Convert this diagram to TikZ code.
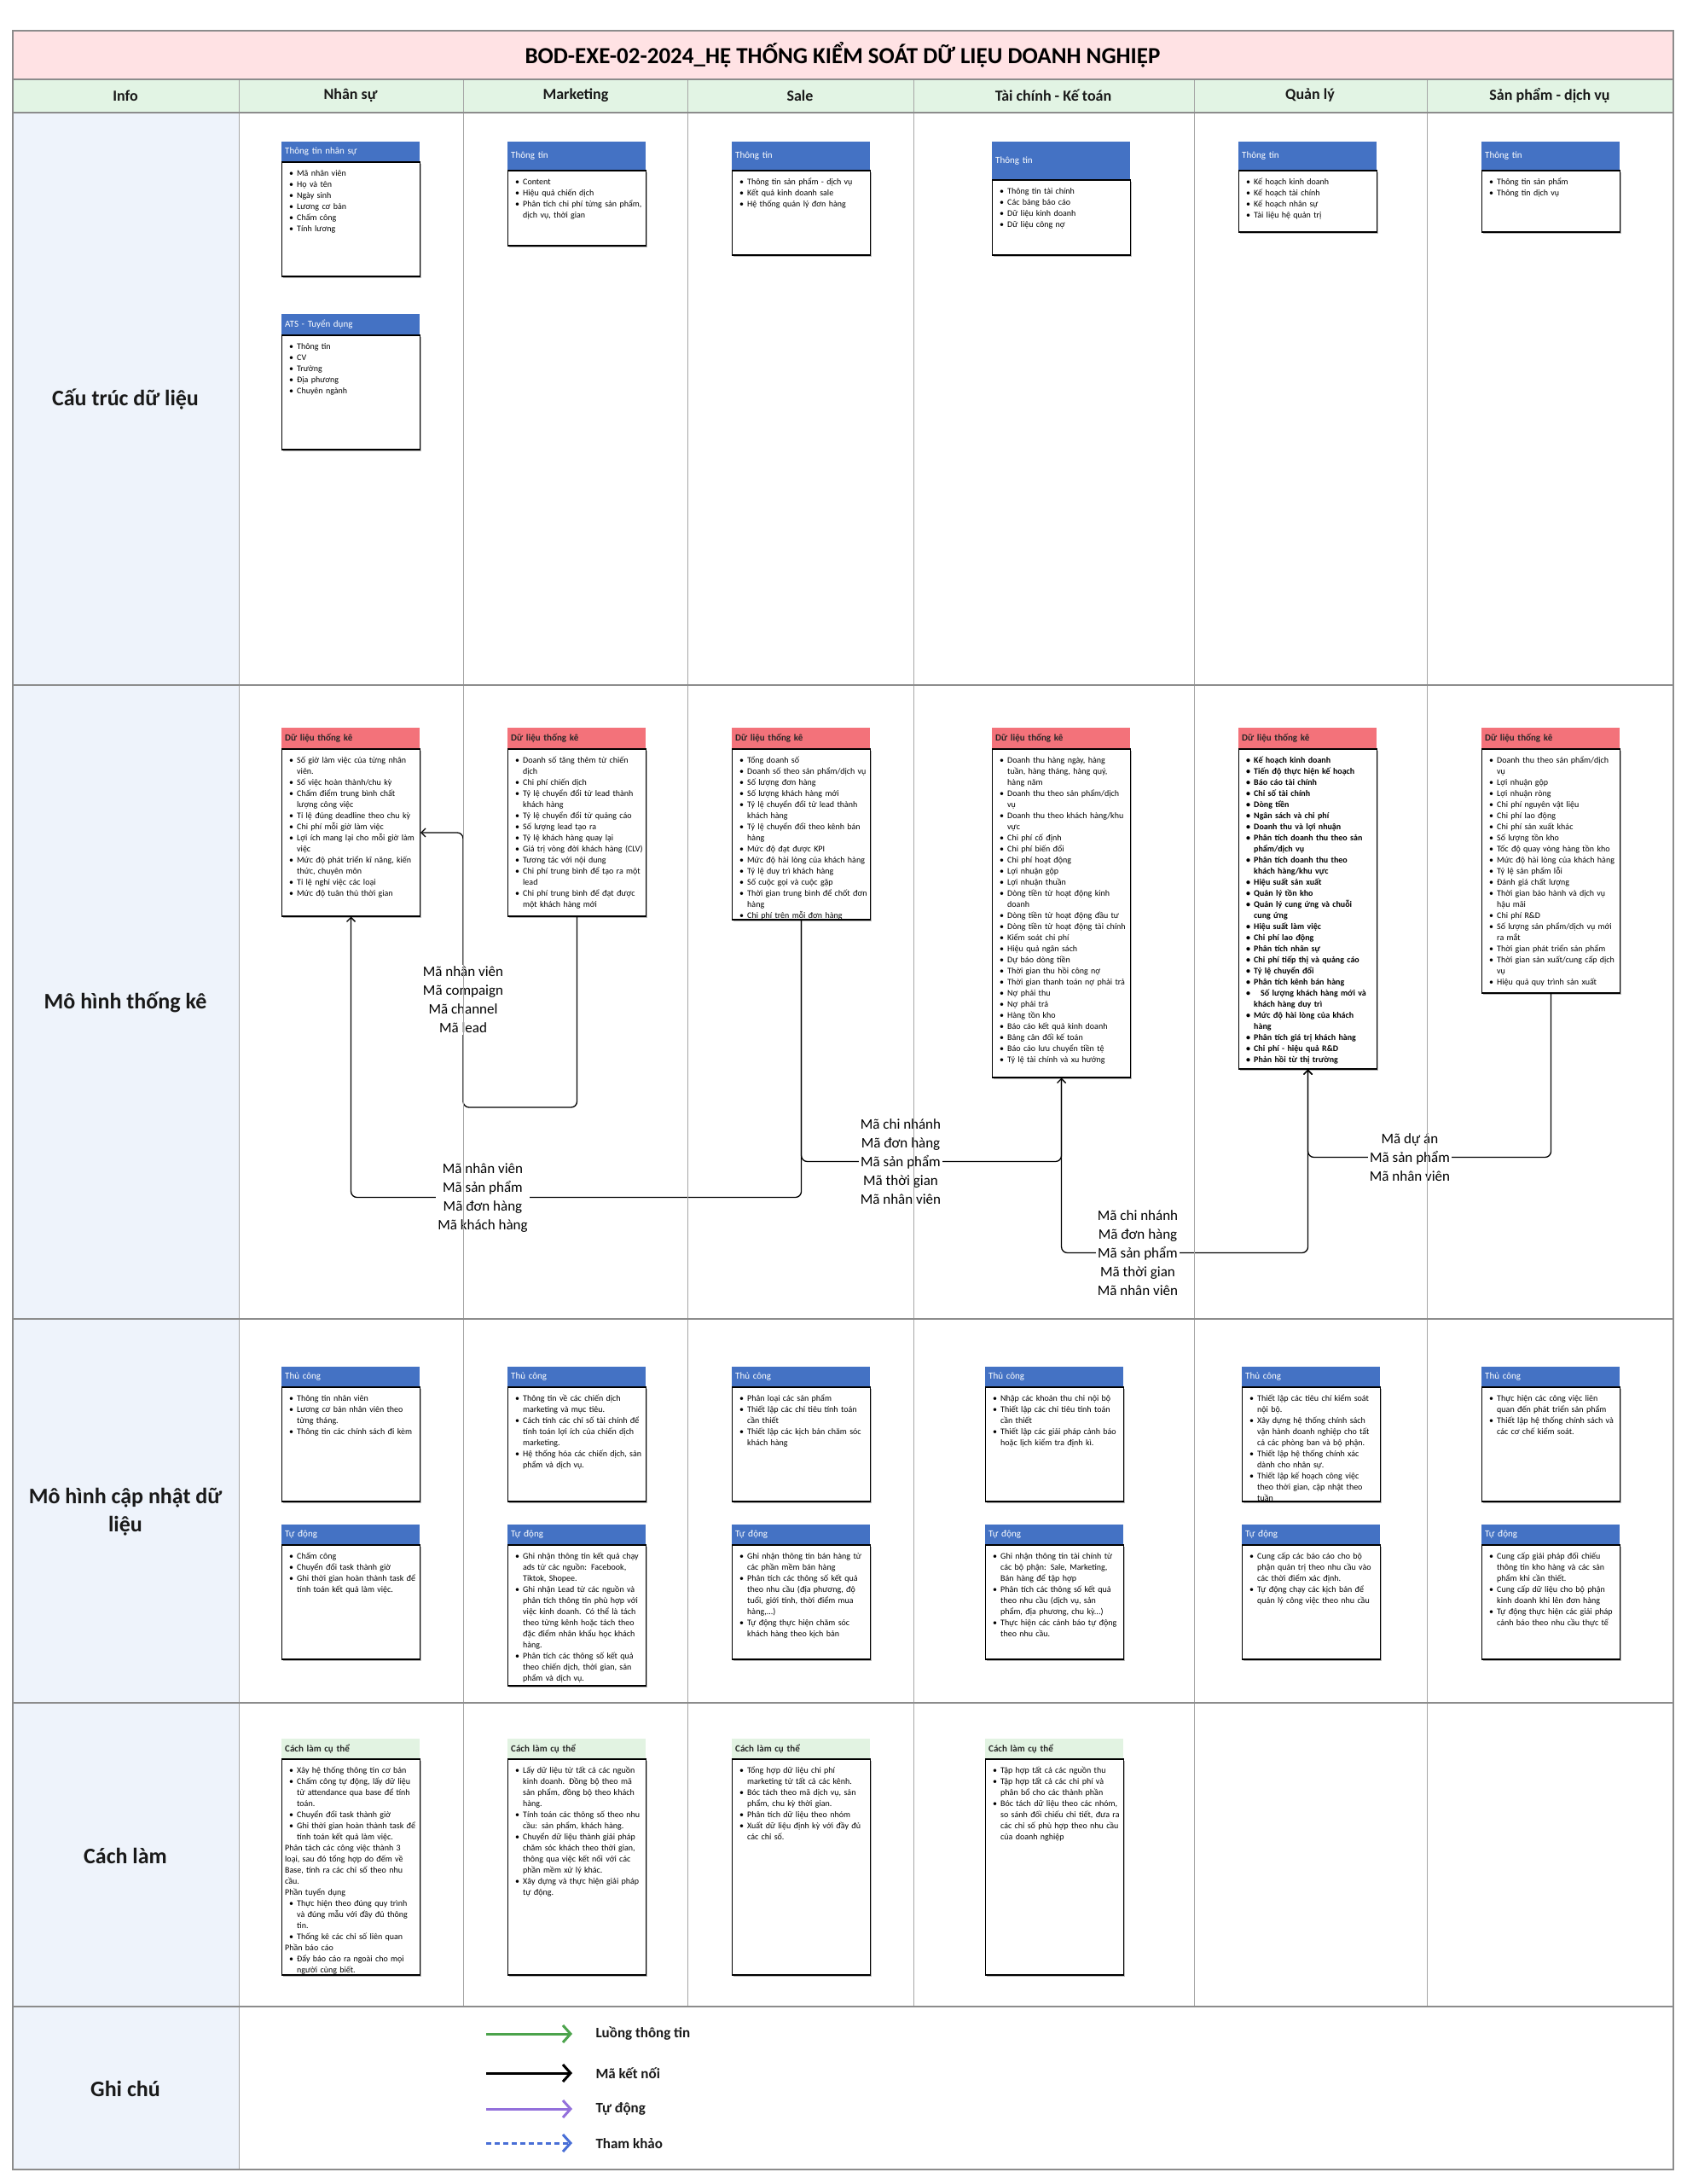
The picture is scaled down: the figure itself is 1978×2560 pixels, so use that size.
\documentclass[tikz,border=0pt]{standalone}
\usepackage{fontspec}
\setmainfont{Carlito}
\usetikzlibrary{arrows.meta, positioning, shadows}

\definecolor{titlepink}{RGB}{255,226,228}
\definecolor{headgreen}{RGB}{226,244,228}
\definecolor{infoblue}{RGB}{238,243,251}
\definecolor{hdrblue}{RGB}{68,114,196}
\definecolor{hdrred}{RGB}{243,114,122}
\definecolor{hdrgreen}{RGB}{226,243,226}
\definecolor{flowgreen}{RGB}{76,163,76}
\definecolor{autopurple}{RGB}{147,112,219}
\definecolor{refblue}{RGB}{72,110,214}

% bullet line and plain line inside a box
\newcommand{\itm}[1]{\par\noindent\hangindent=14pt\hangafter=1\makebox[14pt][l]{\hspace{5pt}\textbullet}#1}
\newcommand{\plainln}[1]{\par\noindent #1}

% box with a coloured title bar: name, corner, bar style, bar height, body height, title, items
\newcommand{\databox}[8]{%
  \node[#3, minimum height=#4pt] (#1Hd) at (#2) {#6};
  \node[boxframe, minimum height=#5pt] (#1) at (#1Hd.south west) {};
  \node[boxtext] (#1Tx) at (#1.north west) {#7#8\par};
}

\begin{document}
\begin{tikzpicture}[x=1pt, y=-1pt,
    hdr/.style={anchor=north west, minimum width=162pt, text width=154pt, inner xsep=4pt, inner ysep=0pt, align=left, font=\fontsize{11}{13}\selectfont},
    hdrBlue/.style={hdr, fill=hdrblue, text=white},
    hdrRed/.style={hdr, fill=hdrred, text=black!85, font=\fontsize{11}{13}\selectfont\bfseries},
    hdrGreen/.style={hdr, fill=hdrgreen, text=black!85, font=\fontsize{11}{13}\selectfont\bfseries},
    boxframe/.style={draw=black, line width=1.1pt, fill=white, anchor=north west, minimum width=162pt, inner sep=0pt,
        drop shadow={shadow xshift=1.2pt, shadow yshift=-1.8pt, fill=black!45, opacity=0.6}},
    boxtext/.style={anchor=north west, inner xsep=4pt, inner ysep=4pt, text width=156pt, align=left, font=\fontsize{10}{13}\selectfont},
    link/.style={draw=black, line width=1.3pt, rounded corners=7pt, -{Straight Barb[length=5pt,width=10pt]}},
    codeLabel/.style={fill=white, align=center, inner sep=2pt, font=\fontsize{17}{22}\selectfont},
    gridline/.style={draw=black!35, line width=1pt},
    rowline/.style={draw=black!45, line width=1.6pt},
    rowLabel/.style={align=center, text=black!90, font=\fontsize{26}{33}\selectfont\bfseries},
    colHead/.style={text=black!90, font=\fontsize{18}{22}\selectfont\bfseries},
    legArrow/.style={line width=3pt, -{Straight Barb[length=9pt,width=20pt]}},
    legText/.style={anchor=west, text=black!90, font=\fontsize{17}{20}\selectfont\bfseries}]

    \useasboundingbox (0,0) rectangle (1978,2560);

    % backgrounds
    \fill[titlepink] (15,36) rectangle (1962,93);
    \fill[headgreen] (15,93) rectangle (1962,132);
    \fill[infoblue] (15,132) rectangle (280,2543);

    % data structure
    \databox{nsInfo}{330,166}{hdrBlue}{23}{134}{Thông tin nhân sự}{}{\itm{Mã nhân viên}\itm{Họ và tên}\itm{Ngày sinh}\itm{Lương cơ bản}\itm{Chấm công}\itm{Tính lương}}
    \databox{atsInfo}{330,368}{hdrBlue}{24}{134}{ATS - Tuyển dụng}{}{\itm{Thông tin}\itm{CV}\itm{Trường}\itm{Địa phương}\itm{Chuyên ngành}}
    \databox{mkInfo}{595,166}{hdrBlue}{33}{88}{Thông tin}{}{\itm{Content}\itm{Hiệu quả chiến dịch}\itm{Phân tích chi phí từng sản phẩm,\newline dịch vụ, thời gian}}
    \databox{slInfo}{858,166}{hdrBlue}{33}{99}{Thông tin}{}{\itm{Thông tin sản phẩm - dịch vụ}\itm{Kết quả kinh doanh sale}\itm{Hệ thống quản lý đơn hàng}}
    \databox{tcInfo}{1163,166}{hdrBlue}{44}{88}{Thông tin}{}{\itm{Thông tin tài chính}\itm{Các bảng báo cáo}\itm{Dữ liệu kinh doanh}\itm{Dữ liệu công nợ}}
    \databox{qlInfo}{1452,166}{hdrBlue}{33}{72}{Thông tin}{}{\itm{Kế hoạch kinh doanh}\itm{Kế hoạch tài chính}\itm{Kế hoạch nhân sự}\itm{Tài liệu hệ quản trị}}
    \databox{spInfo}{1737,166}{hdrBlue}{33}{72}{Thông tin}{}{\itm{Thông tin sản phẩm}\itm{Thông tin dịch vụ}}

    % statistics
    \databox{nsStat}{330,853}{hdrRed}{24}{196}{Dữ liệu thống kê}{}{\itm{Số giờ làm việc của từng nhân\newline viên.}\itm{Số việc hoàn thành/chu kỳ}\itm{Chấm điểm trung bình chất\newline lượng công việc}\itm{Tỉ lệ đúng deadline theo chu kỳ}\itm{Chi phí mỗi giờ làm việc}\itm{Lợi ích mang lại cho mỗi giờ làm\newline việc}\itm{Mức độ phát triển kĩ năng, kiến\newline thức, chuyên môn}\itm{Tỉ lệ nghỉ việc các loại}\itm{Mức độ tuân thủ thời gian}}
    \databox{mkStat}{595,853}{hdrRed}{24}{196}{Dữ liệu thống kê}{}{\itm{Doanh số tăng thêm từ chiến\newline dịch}\itm{Chi phí chiến dịch}\itm{Tỷ lệ chuyển đổi từ lead thành\newline khách hàng}\itm{Tỷ lệ chuyển đổi từ quảng cáo}\itm{Số lượng lead tạo ra}\itm{Tỷ lệ khách hàng quay lại}\itm{Giá trị vòng đời khách hàng (CLV)}\itm{Tương tác với nội dung}\itm{Chi phí trung bình để tạo ra một\newline lead}\itm{Chi phí trung bình để đạt được\newline một khách hàng mới}}
    \databox{slStat}{858,853}{hdrRed}{24}{200}{Dữ liệu thống kê}{}{\itm{Tổng doanh số}\itm{Doanh số theo sản phẩm/dịch vụ}\itm{Số lượng đơn hàng}\itm{Số lượng khách hàng mới}\itm{Tỷ lệ chuyển đổi từ lead thành\newline khách hàng}\itm{Tỷ lệ chuyển đổi theo kênh bán\newline hàng}\itm{Mức độ đạt được KPI}\itm{Mức độ hài lòng của khách hàng}\itm{Tỷ lệ duy trì khách hàng}\itm{Số cuộc gọi và cuộc gặp}\itm{Thời gian trung bình để chốt đơn\newline hàng}\itm{Chi phí trên mỗi đơn hàng}}
    \databox{tcStat}{1163,853}{hdrRed}{24}{385}{Dữ liệu thống kê}{}{\itm{Doanh thu hàng ngày, hàng\newline tuần, hàng tháng, hàng quý,\newline hàng năm}\itm{Doanh thu theo sản phẩm/dịch\newline vụ}\itm{Doanh thu theo khách hàng/khu\newline vực}\itm{Chi phí cố định}\itm{Chi phí biến đổi}\itm{Chi phí hoạt động}\itm{Lợi nhuận gộp}\itm{Lợi nhuận thuần}\itm{Dòng tiền từ hoạt động kinh\newline doanh}\itm{Dòng tiền từ hoạt động đầu tư}\itm{Dòng tiền từ hoạt động tài chính}\itm{Kiểm soát chi phí}\itm{Hiệu quả ngân sách}\itm{Dự báo dòng tiền}\itm{Thời gian thu hồi công nợ}\itm{Thời gian thanh toán nợ phải trả}\itm{Nợ phải thu}\itm{Nợ phải trả}\itm{Hàng tồn kho}\itm{Báo cáo kết quả kinh doanh}\itm{Bảng cân đối kế toán}\itm{Báo cáo lưu chuyển tiền tệ}\itm{Tỷ lệ tài chính và xu hướng}}
    \databox{qlStat}{1452,853}{hdrRed}{24}{375}{Dữ liệu thống kê}{\bfseries}{\itm{Kế hoạch kinh doanh}\itm{Tiến độ thực hiện kế hoạch}\itm{Báo cáo tài chính}\itm{Chỉ số tài chính}\itm{Dòng tiền}\itm{Ngân sách và chi phí}\itm{Doanh thu và lợi nhuận}\itm{Phân tích doanh thu theo sản\newline phẩm/dịch vụ}\itm{Phân tích doanh thu theo\newline khách hàng/khu vực}\itm{Hiệu suất sản xuất}\itm{Quản lý tồn kho}\itm{Quản lý cung ứng và chuỗi\newline cung ứng}\itm{Hiệu suất làm việc}\itm{Chi phí lao động}\itm{Phân tích nhân sự}\itm{Chi phí tiếp thị và quảng cáo}\itm{Tỷ lệ chuyển đổi}\itm{Phân tích kênh bán hàng}\itm{\hspace{8pt}Số lượng khách hàng mới và\newline khách hàng duy trì}\itm{Mức độ hài lòng của khách\newline hàng}\itm{Phân tích giá trị khách hàng}\itm{Chi phí - hiệu quả R\&D}\itm{Phản hồi từ thị trường}}
    \databox{spStat}{1737,853}{hdrRed}{24}{286}{Dữ liệu thống kê}{}{\itm{Doanh thu theo sản phẩm/dịch\newline vụ}\itm{Lợi nhuận gộp}\itm{Lợi nhuận ròng}\itm{Chi phí nguyên vật liệu}\itm{Chi phí lao động}\itm{Chi phí sản xuất khác}\itm{Số lượng tồn kho}\itm{Tốc độ quay vòng hàng tồn kho}\itm{Mức độ hài lòng của khách hàng}\itm{Tỷ lệ sản phẩm lỗi}\itm{Đánh giá chất lượng}\itm{Thời gian bảo hành và dịch vụ\newline hậu mãi}\itm{Chi phí R\&D}\itm{Số lượng sản phẩm/dịch vụ mới\newline ra mắt}\itm{Thời gian phát triển sản phẩm}\itm{Thời gian sản xuất/cung cấp dịch\newline vụ}\itm{Hiệu quả quy trình sản xuất}}

    % update model: manual
    \databox{nsMan}{330,1602}{hdrBlue}{23}{134}{Thủ công}{}{\itm{Thông tin nhân viên}\itm{Lương cơ bản nhân viên theo\newline từng tháng.}\itm{Thông tin các chính sách đi kèm}}
    \databox{mkMan}{595,1602}{hdrBlue}{23}{134}{Thủ công}{}{\itm{Thông tin về các chiến dịch\newline marketing và mục tiêu.}\itm{Cách tính các chỉ số tài chính để\newline tính toán lợi ích của chiến dịch\newline marketing.}\itm{Hệ thống hóa các chiến dịch, sản\newline phẩm và dịch vụ.}}
    \databox{slMan}{858,1602}{hdrBlue}{23}{134}{Thủ công}{}{\itm{Phân loại các sản phẩm}\itm{Thiết lập các chỉ tiêu tính toán\newline cần thiết}\itm{Thiết lập các kịch bản chăm sóc\newline khách hàng}}
    \databox{tcMan}{1155,1602}{hdrBlue}{23}{134}{Thủ công}{}{\itm{Nhập các khoản thu chi nội bộ}\itm{Thiết lập các chỉ tiêu tính toán\newline cần thiết}\itm{Thiết lập các giải pháp cảnh báo\newline hoặc lịch kiểm tra định kì.}}
    \databox{qlMan}{1456,1602}{hdrBlue}{23}{134}{Thủ công}{}{\itm{Thiết lập các tiêu chí kiểm soát\newline nội bộ.}\itm{Xây dựng hệ thống chính sách\newline vận hành doanh nghiệp cho tất\newline cả các phòng ban và bộ phận.}\itm{Thiết lập hệ thống chính xác\newline dành cho nhân sự.}\itm{Thiết lập kế hoạch công việc\newline theo thời gian, cập nhật theo\newline tuần}}
    \databox{spMan}{1737,1602}{hdrBlue}{23}{134}{Thủ công}{}{\itm{Thực hiện các công việc liên\newline quan đến phát triển sản phẩm}\itm{Thiết lập hệ thống chính sách và\newline các cơ chế kiểm soát.}}

    % update model: automatic
    \databox{nsAuto}{330,1787}{hdrBlue}{23}{134}{Tự động}{}{\itm{Chấm công}\itm{Chuyển đổi task thành giờ}\itm{Ghi thời gian hoàn thành task để\newline tính toán  kết quả làm việc.}}
    \databox{mkAuto}{595,1787}{hdrBlue}{23}{165}{Tự động}{}{\itm{Ghi nhận thông tin kết quả chạy\newline ads từ các nguồn: Facebook,\newline Tiktok, Shopee.}\itm{Ghi nhận Lead từ các nguồn và\newline phân tích thông tin phù hợp với\newline việc kinh doanh. Có thể là tách\newline theo từng kênh hoặc tách theo\newline đặc điểm nhân khẩu học  khách\newline hàng.}\itm{Phân tích các thông số kết quả\newline theo chiến dịch, thời gian, sản\newline phẩm và dịch vụ.}}
    \databox{slAuto}{858,1787}{hdrBlue}{23}{134}{Tự động}{}{\itm{Ghi nhận thông tin bán hàng từ\newline các phần mềm bán hàng}\itm{Phân tích các thông số kết quả\newline theo nhu cầu (địa phương, độ\newline tuổi, giới tính, thời điểm mua\newline hàng,...)}\itm{Tự động thực hiện chăm sóc\newline khách hàng theo kịch bản}}
    \databox{tcAuto}{1155,1787}{hdrBlue}{23}{134}{Tự động}{}{\itm{Ghi nhận thông tin tài chính từ\newline các bộ phận: Sale, Marketing,\newline Bán hàng để tập hợp}\itm{Phân tích các thông số kết quả\newline theo nhu cầu (dịch vụ, sản\newline phẩm, địa phương, chu kỳ...)}\itm{Thực hiện các cảnh báo tự động\newline theo nhu cầu.}}
    \databox{qlAuto}{1456,1787}{hdrBlue}{23}{134}{Tự động}{}{\itm{Cung cấp các báo cáo cho bộ\newline phận quản trị theo nhu cầu vào\newline các thời điểm xác định.}\itm{Tự động chạy các kịch bản để\newline quản lý công việc theo nhu cầu}}
    \databox{spAuto}{1737,1787}{hdrBlue}{23}{134}{Tự động}{}{\itm{Cung cấp giải pháp đối chiếu\newline thông tin kho hàng và các sản\newline phẩm khi cần thiết.}\itm{Cung cấp dữ liệu cho bộ phận\newline kinh doanh khi lên đơn hàng}\itm{Tự động thực hiện các giải pháp\newline cảnh báo theo nhu cầu thực tế}}

    % how it is done
    \databox{nsHow}{330,2038}{hdrGreen}{23}{253}{Cách làm cụ thể}{}{\itm{Xây hệ thống thông tin cơ bản}\itm{Chấm công tự động, lấy dữ liệu\newline từ attendance qua base để tính\newline toán.}\itm{Chuyển đổi task thành giờ}\itm{Ghi thời gian hoàn thành task để\newline tính toán  kết quả làm việc.}\plainln{Phân tách các công việc thành 3\newline loại, sau đó tổng hợp do đếm về\newline Base, tính ra các chỉ số theo nhu\newline cầu.}\plainln{Phần tuyển dụng}\itm{Thực hiện theo đúng quy trình\newline và đúng mẫu với đầy đủ thông\newline tin.}\itm{Thống kê các chỉ số liên quan}\plainln{Phần báo cáo}\itm{Đẩy báo cáo ra ngoài cho mọi\newline người cùng biết.}}
    \databox{mkHow}{595,2038}{hdrGreen}{23}{253}{Cách làm cụ thể}{}{\itm{Lấy dữ liệu từ tất cả các nguồn\newline kinh doanh. Đồng bộ theo mã\newline sản phẩm, đồng bộ theo khách\newline hàng.}\itm{Tính toán các thông số theo nhu\newline cầu: sản phẩm, khách hàng.}\itm{Chuyển dữ liệu thành giải pháp\newline chăm sóc khách theo thời gian,\newline thông qua việc kết nối với các\newline phần mềm xử lý khác.}\itm{Xây dựng và thực hiện giải pháp\newline tự động.}}
    \databox{slHow}{858,2038}{hdrGreen}{23}{253}{Cách làm cụ thể}{}{\itm{Tổng hợp dữ liệu chi phí\newline marketing từ tất cả các kênh.}\itm{Bóc tách theo mã dịch vụ, sản\newline phẩm, chu kỳ thời gian.}\itm{Phân tích dữ liệu theo nhóm}\itm{Xuất dữ liệu định kỳ với đầy đủ\newline các chỉ số.}}
    \databox{tcHow}{1155,2038}{hdrGreen}{23}{253}{Cách làm cụ thể}{}{\itm{Tập hợp tất cả các nguồn thu}\itm{Tập hợp tất cả các chi phí và\newline phân bổ cho các thành phần}\itm{Bóc tách dữ liệu theo các nhóm,\newline so sánh đối chiếu chi tiết, đưa ra\newline các chỉ số phù hợp theo nhu cầu\newline của doanh nghiệp}}

    % key connectors between the statistics boxes
    \draw[link] (mkStat.south) |- (543,1298) |- (nsStat.east);
    \draw[link] (slStat.south) -- ++(0,325) -| (nsStat.south);
    \draw[link] (slStat.south) -- ++(0,283) -| (tcStat.south);
    \draw[link] (tcStat.south) -- ++(0,205) -| (qlStat.south);
    \draw[link] (spStat.south) -- ++(0,192) -| (qlStat.south);

    \node[codeLabel] (keyMk) at (543,1172) {Mã nhân viên\\Mã compaign\\Mã channel\\Mã lead};
    \node[codeLabel] (keySl) at (566,1404) {Mã nhân viên\\Mã sản phẩm\\Mã đơn hàng\\Mã khách hàng};
    \node[codeLabel] (keySlTc) at (1056,1362) {Mã chi nhánh\\Mã đơn hàng\\Mã sản phẩm\\Mã thời gian\\Mã nhân viên};
    \node[codeLabel] (keyTcQl) at (1334,1469) {Mã chi nhánh\\Mã đơn hàng\\Mã sản phẩm\\Mã thời gian\\Mã nhân viên};
    \node[codeLabel] (keySpQl) at (1653,1357) {Mã dự án\\Mã sản phẩm\\Mã nhân viên};

    % table grid
    \foreach \gx in {543,806,1071,1400,1673}
        \draw[gridline] (\gx,93) -- (\gx,2352);
    \draw[gridline] (280,93) -- (280,2543);
    \foreach \gy in {93,132,803,1546,1996,2352}
        \draw[rowline] (15,\gy) -- (1962,\gy);
    \draw[rowline] (15,36) rectangle (1962,2543);

    % title, column heads, row heads
    \node[font=\fontsize{27}{30}\selectfont\bfseries] (title) at (988,64) {BOD-EXE-02-2024\_HỆ THỐNG KIỂM SOÁT DỮ LIỆU DOANH NGHIỆP};
    \foreach \cx/\txt [count=\i] in {147/Info, 411/Nhân sự, 675/Marketing, 938/Sale, 1235/Tài chính - Kế toán, 1536/Quản lý, 1817/Sản phẩm - dịch vụ}
        \node[colHead] (col\i) at (\cx,112) {\txt};
    \node[rowLabel] (rowStruct) at (147,468) {Cấu trúc dữ liệu};
    \node[rowLabel] (rowStat) at (147,1175) {Mô hình thống kê};
    \node[rowLabel] (rowUpd) at (147,1772) {Mô hình cập nhật dữ\\liệu};
    \node[rowLabel] (rowHow) at (147,2175) {Cách làm};
    \node[rowLabel] (rowNote) at (147,2448) {Ghi chú};

    % legend
    \coordinate (legA1) at (570,2384); \coordinate (legB1) at (671,2384);
    \coordinate (legA2) at (570,2430); \coordinate (legB2) at (671,2430);
    \coordinate (legA3) at (570,2472); \coordinate (legB3) at (671,2472);
    \coordinate (legA4) at (570,2512); \coordinate (legB4) at (671,2512);
    \draw[legArrow, flowgreen] (legA1) -- (legB1);
    \draw[legArrow, black] (legA2) -- (legB2);
    \draw[legArrow, autopurple] (legA3) -- (legB3);
    \draw[legArrow, refblue, dash pattern=on 6pt off 4pt] (legA4) -- (legB4);
    \node[legText] (legT1) at (695,2384) {Luồng thông tin};
    \node[legText] (legT2) at (695,2430) {Mã kết nối};
    \node[legText] (legT3) at (695,2472) {Tự động};
    \node[legText] (legT4) at (695,2512) {Tham khảo};
\end{tikzpicture}
\end{document}
